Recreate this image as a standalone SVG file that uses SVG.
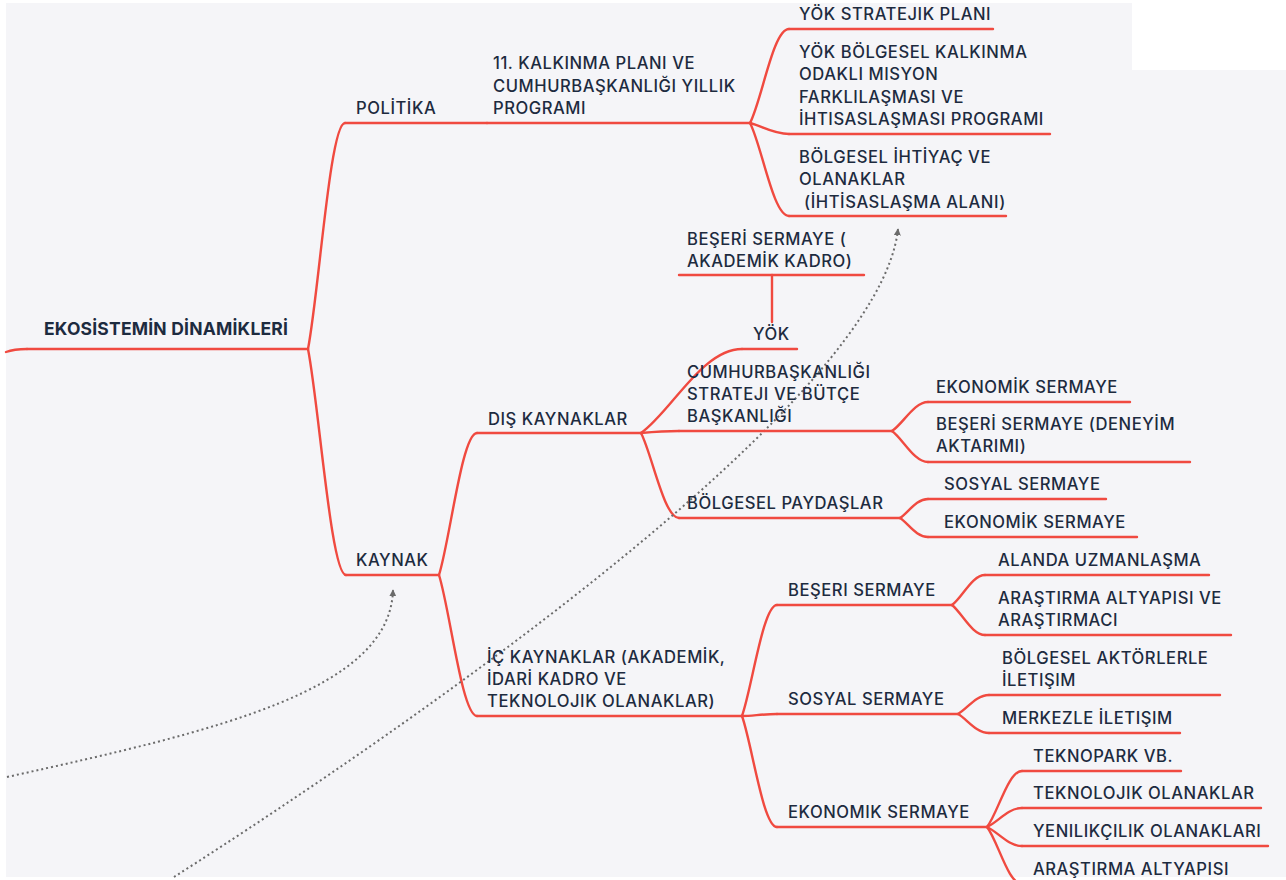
<svg xmlns="http://www.w3.org/2000/svg" width="1286" height="880" viewBox="0 0 1286 880">
<defs>
<style>
.t{font-family:Inter,"Open Sans","Noto Sans",sans-serif;font-size:16.6px;font-weight:500;fill:#1d2b3f;letter-spacing:0.55px}
.root{font-weight:700;font-size:17.5px;letter-spacing:0.2px}
.ln{fill:none;stroke:#f04a40;stroke-width:2.4;stroke-linecap:round}
.ds{fill:none;stroke:#6b6b6b;stroke-width:2;stroke-dasharray:2 3}
</style>
<marker id="ah" viewBox="0 0 10 10" refX="9" refY="5" markerWidth="7" markerHeight="7" markerUnits="userSpaceOnUse" orient="auto">
<path d="M0,0 L10,5 L0,10 Z" fill="#6b6b6b"/>
</marker>
</defs>
<rect x="0" y="0" width="1286" height="880" fill="#ffffff"/>
<rect x="6" y="3" width="1280" height="874" fill="#f5f5f8"/>
<rect x="1132" y="0" width="154" height="70" fill="#ffffff"/>

<g id="connectors">
<path class="ln" d="M6,352 Q14,349 27,349"/>
<path class="ln" d="M308,349 C319,292 330,123 345,123"/>
<path class="ln" d="M308,349 C319,405 331,575 346,575"/>
<path class="ln" d="M750,123 C762,100 773,29 789,29"/>
<path class="ln" d="M750,123 C762,126 773,134 789,134"/>
<path class="ln" d="M750,123 C762,146 773,216 789,216"/>
<path class="ln" d="M439,575 C450,540 462,433 477,433"/>
<path class="ln" d="M439,575 C450,610 462,716 477,716"/>
<path class="ln" d="M641,433 C671,412 702,349 742,349"/>
<path class="ln" d="M772,322 L772,275"/>
<path class="ln" d="M641,433 C652,432 664,431 679,431"/>
<path class="ln" d="M641,433 C652,454 664,518 679,518"/>
<path class="ln" d="M892,431 C903,424 914,402 928,402"/>
<path class="ln" d="M892,431 C903,439 914,462 928,462"/>
<path class="ln" d="M900,518 C908,513 916,499 928,499"/>
<path class="ln" d="M900,518 C908,523 916,537 928,537"/>
<path class="ln" d="M742,716 C752,688 763,605 777,605"/>
<path class="ln" d="M742,716 C752,716 763,714 777,714"/>
<path class="ln" d="M742,716 C752,744 763,827 777,827"/>
<path class="ln" d="M952,605 C962,598 972,575 985,575"/>
<path class="ln" d="M952,605 C962,613 972,635 985,635"/>
<path class="ln" d="M958,714 C967,709 976,695 989,695"/>
<path class="ln" d="M958,714 C967,719 976,733 989,733"/>
<path class="ln" d="M987,827 C998,813 1008,771 1022,771"/>
<path class="ln" d="M987,827 C998,822 1008,808 1022,808"/>
<path class="ln" d="M987,827 C998,832 1008,846 1022,846"/>
<path class="ln" d="M987,827 C998,841 1008,884 1022,884"/>
<path class="ds" d="M174,877 C420,720 880,400 898,229" marker-end="url(#ah)"/>
<path class="ds" d="M7,777 C220,730 390,690 393,590" marker-end="url(#ah)"/>
</g>

<g id="root"><path class="ln" d="M27,349 L308,349"/><text class="t root" x="44" y="335">EKOSİSTEMİN DİNAMİKLERİ</text></g>
<g id="politika"><path class="ln" d="M345,123 L487,123"/><text class="t" x="356" y="114">POLİTİKA</text></g>
<g id="kalkinma"><path class="ln" d="M487,123 L751,123"/><text class="t" x="493" y="69">11. KALKINMA PLANI VE</text><text class="t" x="493" y="92">CUMHURBAŞKANLIĞI YILLIK</text><text class="t" x="493" y="114">PROGRAMI</text></g>
<g id="yok-stratejik"><path class="ln" d="M789,29 L993,29"/><text class="t" x="799" y="20">YÖK STRATEJIK PLANI</text></g>
<g id="yok-bolgesel"><path class="ln" d="M789,134 L1050,134"/><text class="t" x="799" y="57.5">YÖK BÖLGESEL KALKINMA</text><text class="t" x="799" y="80">ODAKLI MISYON</text><text class="t" x="799" y="102.5">FARKLILAŞMASI VE</text><text class="t" x="799" y="125">İHTISASLAŞMASI PROGRAMI</text></g>
<g id="bolgesel-ihtiyac"><path class="ln" d="M789,216 L1006,216"/><text class="t" x="799" y="162.5">BÖLGESEL İHTİYAÇ VE</text><text class="t" x="799" y="185">OLANAKLAR</text><text class="t" x="804" y="207.5">(İHTİSASLAŞMA ALANI)</text></g>
<g id="beseri-akademik"><path class="ln" d="M679,275 L864,275"/><text class="t" x="687" y="244.5">BEŞERİ SERMAYE (</text><text class="t" x="687" y="266.5">AKADEMİK KADRO)</text></g>
<g id="yok"><path class="ln" d="M742,349 L797,349"/><text class="t" x="753" y="340">YÖK</text></g>
<g id="cumhurbaskanligi"><path class="ln" d="M679,431 L892,431"/><text class="t" x="687" y="378">CUMHURBAŞKANLIĞI</text><text class="t" x="687" y="400">STRATEJI VE BÜTÇE</text><text class="t" x="687" y="422">BAŞKANLIĞI</text></g>
<g id="dis-kaynaklar"><path class="ln" d="M477,433 L641,433"/><text class="t" x="488" y="425">DIŞ KAYNAKLAR</text></g>
<g id="ekonomik-1"><path class="ln" d="M928,402 L1130,402"/><text class="t" x="936" y="393">EKONOMİK SERMAYE</text></g>
<g id="beseri-deneyim"><path class="ln" d="M928,462 L1190,462"/><text class="t" x="936" y="430">BEŞERİ SERMAYE (DENEYİM</text><text class="t" x="936" y="452">AKTARIMI)</text></g>
<g id="bolgesel-paydaslar"><path class="ln" d="M679,518 L900,518"/><text class="t" x="687" y="509">BÖLGESEL PAYDAŞLAR</text></g>
<g id="sosyal-1"><path class="ln" d="M928,499 L1106,499"/><text class="t" x="944" y="490">SOSYAL SERMAYE</text></g>
<g id="ekonomik-2"><path class="ln" d="M928,537 L1137,537"/><text class="t" x="944" y="528">EKONOMİK SERMAYE</text></g>
<g id="kaynak"><path class="ln" d="M346,575 L439,575"/><text class="t" x="356" y="566">KAYNAK</text></g>
<g id="ic-kaynaklar"><path class="ln" d="M477,716 L742,716"/><text class="t" x="487" y="663">İÇ KAYNAKLAR (AKADEMİK,</text><text class="t" x="487" y="685">İDARİ KADRO VE</text><text class="t" x="487" y="707">TEKNOLOJIK OLANAKLAR)</text></g>
<g id="beseri-ic"><path class="ln" d="M777,605 L952,605"/><text class="t" x="788" y="596">BEŞERI SERMAYE</text></g>
<g id="alanda"><path class="ln" d="M985,575 L1209,575"/><text class="t" x="998" y="566">ALANDA UZMANLAŞMA</text></g>
<g id="arastirma-ve"><path class="ln" d="M985,635 L1231,635"/><text class="t" x="998" y="604">ARAŞTIRMA ALTYAPISI VE</text><text class="t" x="998" y="626">ARAŞTIRMACI</text></g>
<g id="sosyal-ic"><path class="ln" d="M777,714 L958,714"/><text class="t" x="788" y="705">SOSYAL SERMAYE</text></g>
<g id="aktorler"><path class="ln" d="M989,695 L1220,695"/><text class="t" x="1002" y="664">BÖLGESEL AKTÖRLERLE</text><text class="t" x="1002" y="686">İLETIŞIM</text></g>
<g id="merkezle"><path class="ln" d="M989,733 L1180,733"/><text class="t" x="1002" y="724">MERKEZLE İLETIŞIM</text></g>
<g id="ekonomik-ic"><path class="ln" d="M777,827 L987,827"/><text class="t" x="788" y="818">EKONOMIK SERMAYE</text></g>
<g id="teknopark"><path class="ln" d="M1022,771 L1181,771"/><text class="t" x="1033" y="762">TEKNOPARK VB.</text></g>
<g id="teknolojik"><path class="ln" d="M1022,808 L1261,808"/><text class="t" x="1033" y="799">TEKNOLOJIK OLANAKLAR</text></g>
<g id="yenilikcilik"><path class="ln" d="M1022,846 L1268,846"/><text class="t" x="1033" y="837">YENILIKÇILIK OLANAKLARI</text></g>
<g id="arastirma"><path class="ln" d="M1022,884 L1230,884"/><text class="t" x="1033" y="875">ARAŞTIRMA ALTYAPISI</text></g>
</svg>
